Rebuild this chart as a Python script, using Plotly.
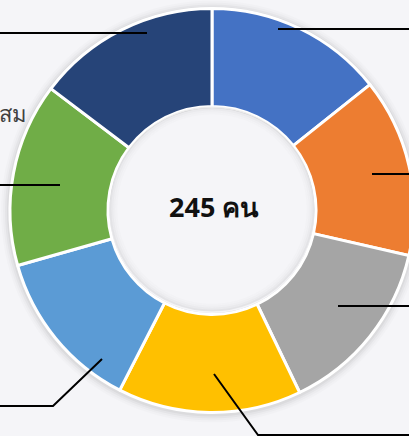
import plotly.graph_objects as go

# ---- data ----
categories = ["กลุ่มที่ 1", "กลุ่มที่ 2", "กลุ่มที่ 3", "กลุ่มที่ 4", "กลุ่มที่ 5", "กลุ่มที่ 6", "กลุ่มที่ 7"]
values = [35, 35, 35, 36, 32, 36, 36]
colors = ["#4472C4", "#ED7D31", "#A5A5A5", "#FFC000", "#5B9BD5", "#70AD47", "#264478"]
center_label = "245 คน"
partial_label = "สม"

BG = "#F5F5F8"
W, H = 420, 436
CX, CY = 212, 210.5      # donut centre (px from top-left)
R = 202                  # donut radius (px)
HOLE = 0.515

def px(x):
    return x / W

def py(y):
    return 1 - y / H

fig = go.Figure(go.Pie(
    labels=categories,
    values=values,
    marker=dict(colors=colors, line=dict(color="white", width=3)),
    hole=HOLE,
    sort=False,
    direction="clockwise",
    rotation=0,
    textinfo="none",
    hoverinfo="label+value",
    showlegend=False,
    domain=dict(x=[px(CX - R), px(CX + R)], y=[py(CY + R), py(CY - R)]),
))

shapes = []
# soft drop shadow behind ring
for dr, a in [(9, 0.015), (7, 0.02), (5, 0.03), (3, 0.04)]:
    shapes.append(dict(type="circle", xref="paper", yref="paper", layer="below",
                       x0=px(CX - R - dr), x1=px(CX + R + dr),
                       y0=py(CY + R + dr + 1), y1=py(CY - R - dr + 1),
                       fillcolor=f"rgba(0,0,0,{a})", line=dict(width=0)))
# hole fill + inner shadow
rh = R * HOLE - 1.5
shapes.append(dict(type="circle", xref="paper", yref="paper", layer="above",
                   x0=px(CX - rh), x1=px(CX + rh), y0=py(CY + rh), y1=py(CY - rh),
                   fillcolor=BG, line=dict(width=0)))
for dr, a in [(1, 0.07), (3, 0.045), (5, 0.025), (7, 0.012)]:
    shapes.append(dict(type="circle", xref="paper", yref="paper", layer="above",
                       x0=px(CX - rh + dr), x1=px(CX + rh - dr),
                       y0=py(CY + rh - dr - 1.5), y1=py(CY - rh + dr - 1.5),
                       fillcolor="rgba(0,0,0,0)", line=dict(color=f"rgba(0,0,0,{a})", width=2)))

# leader lines toward (off-canvas) labels
leaders = [
    [(278, 29), (W, 29)],
    [(372, 174), (W, 174)],
    [(338, 306), (W, 306)],
    [(214, 374), (258, 435), (W, 435)],
    [(102, 359), (53, 406), (-5, 406)],
    [(60, 185), (-5, 185)],
    [(147, 33), (-5, 33)],
]
for pts in leaders:
    d = "M " + " L ".join(f"{px(x)},{py(y)}" for x, y in pts)
    shapes.append(dict(type="path", xref="paper", yref="paper", layer="above",
                       path=d, line=dict(color="black", width=2)))

fig.update_layout(
    width=W, height=H,
    margin=dict(l=0, r=0, t=0, b=0),
    paper_bgcolor=BG,
    plot_bgcolor=BG,
    shapes=shapes,
    annotations=[
        dict(text=center_label, x=px(CX + 2), y=py(CY - 4), xref="paper", yref="paper",
             showarrow=False, font=dict(size=27, color="#111111", family="Noto Sans, sans-serif", weight="bold")),
        dict(text=partial_label, x=px(-3), y=py(96), xref="paper", yref="paper",
             xanchor="left", showarrow=False,
             font=dict(size=22, color="#404040", family="Noto Sans, sans-serif")),
    ],
)

fig.write_html("out.html", config={"displayModeBar": False},
               post_script="document.body.style.margin='0';document.body.style.overflow='hidden';")
